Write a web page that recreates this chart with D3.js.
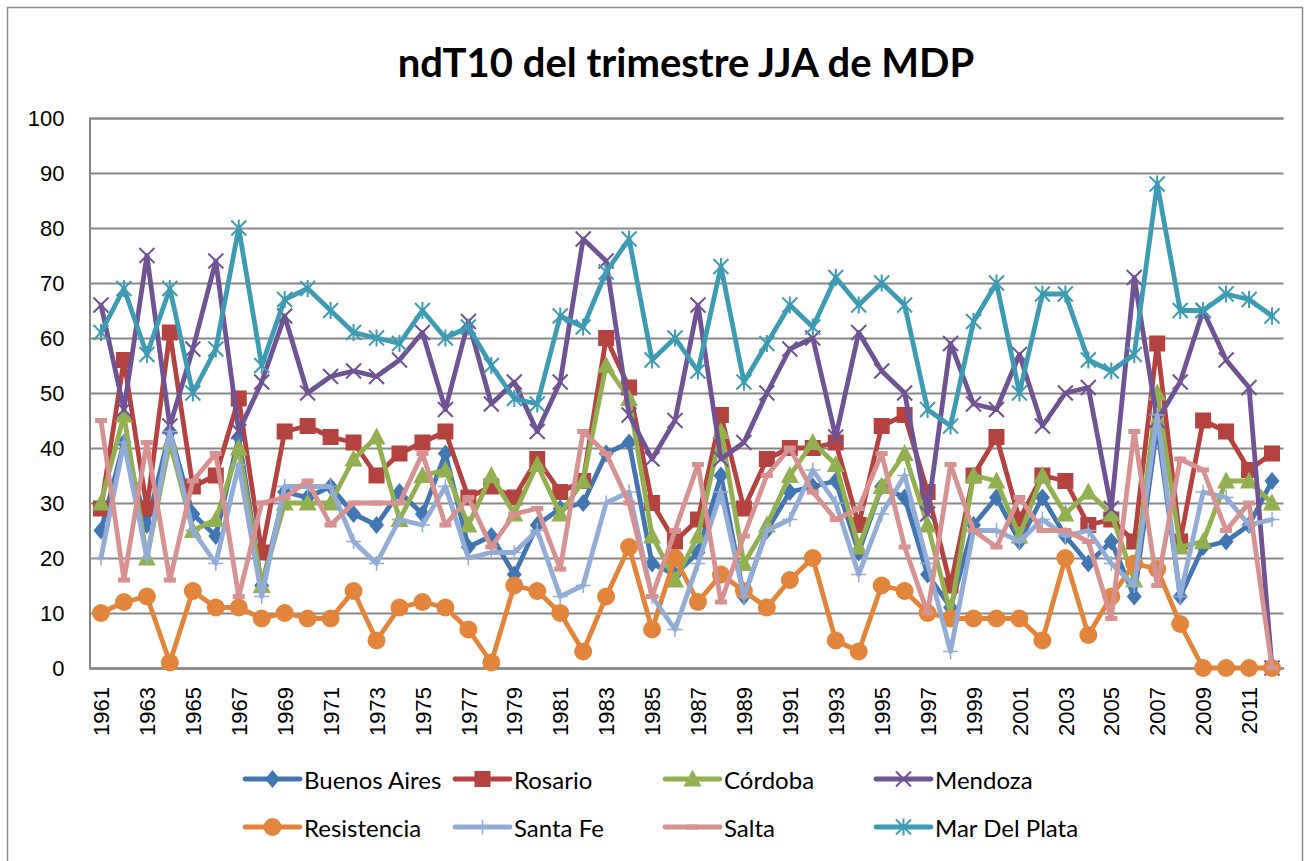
<!DOCTYPE html>
<html>
<head>
<meta charset="utf-8">
<script src="https://cdn.jsdelivr.net/npm/d3@7"></script>
<style>
  html, body { margin: 0; padding: 0; background: #fff; }
  svg { display: block; }
</style>
</head>
<body>
<div id="chart"></div>
<script>
const years = d3.range(1961, 2013);

const buenosAires = [25, 41, 26, 43, 28, 24, 42, 15, 32, 31, 33, 28, 26, 32, 28, 39, 22, 24, 17, 26,
  29, 30, 39, 41, 19, 17, 21, 35, 13, 25, 32, 33, 34, 21, 33, 31, 17, 11, 26, 31,
  23, 31, 24, 19, 23, 13, 44, 13, 22, 23, 26, 34];
const rosario = [29, 56, 29, 61, 33, 35, 49, 21, 43, 44, 42, 41, 35, 39, 41, 43, 31, 33, 31, 38,
  32, 34, 60, 51, 30, 23, 27, 46, 29, 38, 40, 40, 41, 26, 44, 46, 32, 15, 35, 42,
  27, 35, 34, 26, 27, 23, 59, 23, 45, 43, 36, 39];
const cordoba = [30, 46, 20, 41, 25, 27, 40, 15, 30, 30, 30, 38, 42, 27, 35, 36, 26, 35, 28, 37,
  28, 34, 55, 49, 24, 16, 24, 43, 19, 26, 35, 41, 37, 22, 33, 39, 26, 10, 35, 34,
  24, 35, 28, 32, 28, 16, 50, 22, 23, 34, 34, 30];
const mendoza = [66, 47, 75, 44, 58, 74, 43, 52, 64, 50, 53, 54, 53, 56, 61, 47, 63, 48, 52, 43,
  52, 78, 74, 46, 38, 45, 66, 38, 41, 50, 58, 60, 42, 61, 54, 50, 28, 59, 48, 47,
  57, 44, 50, 51, 29, 71, 45, 52, 65, 56, 51, 0];
const resistencia = [10, 12, 13, 1, 14, 11, 11, 9, 10, 9, 9, 14, 5, 11, 12, 11, 7, 1, 15, 14,
  10, 3, 13, 22, 7, 20, 12, 17, 14, 11, 16, 20, 5, 3, 15, 14, 10, 9, 9, 9,
  9, 5, 20, 6, 13, 19, 18, 8, 0, 0, 0, 0];
const santaFe = [20, 41, 20, 43, 25, 19, 37, 13, 33, 33, 33, 23, 19, 27, 26, 33, 20, 21, 21, 25,
  13, 15, 30, 32, 13, 7, 19, 32, 13, 25, 27, 36, 30, 17, 28, 35, 19, 3, 25, 25,
  23, 27, 24, 25, 19, 15, 46, 13, 32, 31, 26, 27];
const salta = [45, 16, 41, 16, 34, 39, 13, 30, 31, 34, 26, 30, 30, 30, 39, 26, 31, 22, 28, 29,
  18, 43, 39, 30, 13, 25, 37, 12, 24, 35, 40, 32, 27, 29, 39, 22, 10, 37, 25, 22,
  31, 25, 25, 23, 9, 43, 15, 38, 36, 25, 30, 0];
const marDelPlata = [61, 69, 57, 69, 50, 58, 80, 55, 67, 69, 65, 61, 60, 59, 65, 60, 62, 55, 49, 48,
  64, 62, 72, 78, 56, 60, 54, 73, 52, 59, 66, 62, 71, 66, 70, 66, 47, 44, 63, 70,
  50, 68, 68, 56, 54, 57, 88, 65, 65, 68, 67, 64];

const yTicks = d3.range(0, 101, 10);
const xTickYears = years.filter((d, i) => i % 2 === 0);

const series = [
  { name: "Buenos Aires", values: buenosAires, color: "#4276b3", marker: "diamond" },
  { name: "Rosario", values: rosario, color: "#b4433f", marker: "square" },
  { name: "Córdoba", values: cordoba, color: "#92b050", marker: "triangle" },
  { name: "Mendoza", values: mendoza, color: "#6f5394", marker: "x" },
  { name: "Resistencia", values: resistencia, color: "#e2843a", marker: "circle" },
  { name: "Santa Fe", values: santaFe, color: "#91acd6", marker: "plus" },
  { name: "Salta", values: salta, color: "#d69190", marker: "dash" },
  { name: "Mar Del Plata", values: marDelPlata, color: "#3d9bb4", marker: "star" },
];

const W = 1312, H = 861;
const plot = { left: 89.5, right: 1283.5, top: 118, bottom: 668 };

const svg = d3.select("#chart").append("svg")
  .attr("width", W)
  .attr("height", H);

// outer chart border
svg.append("rect")
  .attr("x", 7.5).attr("y", 7.5)
  .attr("width", 1295).attr("height", 860)
  .attr("fill", "#fff")
  .attr("stroke", "#8a8a8a")
  .attr("stroke-width", 1.5);

svg.append("text")
  .attr("x", 686)
  .attr("y", 62)
  .attr("text-anchor", "middle")
  .attr("dominant-baseline", "central")
  .style("font-family", "Lato, 'Open Sans', sans-serif")
  .style("font-weight", "bold")
  .style("font-size", "40px")
  .style("fill", "#000")
  .text("ndT10 del trimestre JJA de MDP");

const x = d3.scalePoint().domain(years).range([plot.left, plot.right]).padding(0.5);
const y = d3.scaleLinear().domain([0, 100]).range([plot.bottom, plot.top]);

// y axis + gridlines
const yAxis = svg.append("g")
  .attr("transform", `translate(${plot.left},0)`)
  .call(d3.axisLeft(y).tickValues(yTicks).tickSize(-(plot.right - plot.left)).tickPadding(25));
yAxis.select(".domain").attr("stroke", "#878787").attr("stroke-width", 2);
yAxis.selectAll(".tick line").attr("stroke", "#878787").attr("stroke-width", 2);
yAxis.selectAll("text")
  .style("font-family", "'Liberation Sans', Arial, sans-serif")
  .style("font-size", "22px")
  .style("fill", "#000");

// x axis
const xAxis = svg.append("g")
  .attr("transform", `translate(0,${plot.bottom})`)
  .call(d3.axisBottom(x).tickValues(xTickYears).tickSize(0));
xAxis.select(".domain").attr("stroke", "#878787").attr("stroke-width", 2);
xAxis.selectAll("text")
  .attr("transform", "rotate(-90)")
  .attr("x", -19)
  .attr("y", 0)
  .attr("dy", "0.35em")
  .style("text-anchor", "end")
  .style("font-family", "'Liberation Sans', Arial, sans-serif")
  .style("font-size", "22px")
  .style("fill", "#000");

function drawMarker(g, type, color) {
  if (type === "diamond") {
    g.append("path").attr("d", "M0,-9L7.5,0L0,9L-7.5,0Z").attr("fill", color);
  } else if (type === "square") {
    g.append("rect").attr("x", -8).attr("y", -8).attr("width", 16).attr("height", 16).attr("fill", color);
  } else if (type === "triangle") {
    g.append("path").attr("d", "M0,-9.5L9,7.5L-9,7.5Z").attr("fill", color);
  } else if (type === "circle") {
    g.append("circle").attr("r", 9).attr("fill", color);
  } else if (type === "x") {
    g.append("path").attr("d", "M-7.5,-7.5L7.5,7.5M-7.5,7.5L7.5,-7.5")
      .attr("stroke", color).attr("stroke-width", 2).attr("fill", "none");
  } else if (type === "plus") {
    g.append("path").attr("d", "M-7.5,0L7.5,0M0,-7.5L0,7.5")
      .attr("stroke", color).attr("stroke-width", 1.5).attr("fill", "none");
  } else if (type === "star") {
    g.append("path").attr("d", "M-7.5,-7.5L7.5,7.5M-7.5,7.5L7.5,-7.5M0,-8.5L0,8.5")
      .attr("stroke", color).attr("stroke-width", 2).attr("fill", "none");
  } else if (type === "dash") {
    g.append("rect").attr("x", -6).attr("y", -2.5).attr("width", 12).attr("height", 5).attr("fill", color);
  }
}

const line = d3.line()
  .x((d, i) => x(years[i]))
  .y(d => y(d));

series.forEach(s => {
  const g = svg.append("g");
  g.append("path")
    .datum(s.values)
    .attr("d", line)
    .attr("fill", "none")
    .attr("stroke", s.color)
    .attr("stroke-width", 4.8)
    .attr("stroke-linejoin", "round")
    .attr("stroke-linecap", "round");
  s.values.forEach((v, i) => {
    const m = g.append("g").attr("transform", `translate(${x(years[i])},${y(v)})`);
    drawMarker(m, s.marker, s.color);
  });
});

// legend
const legendCols = [245, 455, 665, 876];
const legendRows = [779, 827];
series.forEach((s, i) => {
  const lx = legendCols[i % 4];
  const ly = legendRows[Math.floor(i / 4)];
  const g = svg.append("g").attr("transform", `translate(${lx},${ly})`);
  g.append("line")
    .attr("x1", 0).attr("x2", 55)
    .attr("stroke", s.color)
    .attr("stroke-width", 4.8)
    .attr("stroke-linecap", "round");
  const m = g.append("g").attr("transform", "translate(27.5,0)");
  drawMarker(m, s.marker, s.color);
  g.append("text")
    .attr("x", 59)
    .attr("y", 0)
    .attr("dominant-baseline", "central")
    .style("font-family", "Lato, 'Open Sans', sans-serif")
    .style("font-size", "24px")
    .style("fill", "#000")
    .text(s.name);
});
</script>
</body>
</html>
